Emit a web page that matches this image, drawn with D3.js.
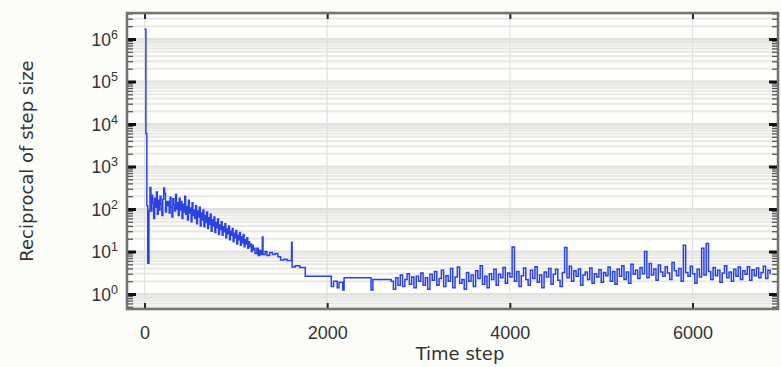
<!DOCTYPE html>
<html>
<head>
<meta charset="utf-8">
<script src="https://cdn.jsdelivr.net/npm/d3@7"></script>
<style>
  html, body { margin: 0; padding: 0; background: #fcfcf9; }
  svg { display: block; font-family: "DejaVu Sans", sans-serif; }
</style>
</head>
<body>
<svg id="chart" width="781" height="367"></svg>
<script>
// ---- data ----
const xTicks = [0, 2000, 4000, 6000];
const yExponents = [0, 1, 2, 3, 4, 5, 6];

// start-up: huge first value, then quick collapse
const startPoints = [[0, 1.7e6], [15, 6000], [25, 120], [35, 5.3], [48, 90]];

// noisy band, one value every 10 steps from step 60
const denseStart = 60, denseStride = 10;
const denseValues = [
  320, 90, 210, 140, 60, 180, 110, 250, 75, 160,
  95, 200, 130, 70, 170, 310, 230, 85, 150, 120,
  150, 80, 190, 110, 65, 175, 125, 90, 220, 100,
  140, 70, 180, 95, 150, 60, 130, 85, 200, 75,
  115, 55, 160, 80, 105, 50, 140, 70, 95, 60,
  120, 45, 90, 65, 110, 40, 80, 55, 95, 38,
  70, 48, 85, 35, 62, 44, 75, 30, 55, 40,
  65, 28, 48, 36, 58, 25, 42, 33, 50, 24,
  38, 29, 45, 21, 34, 26, 40, 19, 30, 24,
  35, 17, 27, 21, 31, 15, 24, 19, 28, 14,
  22, 16, 25, 13, 19, 15, 21, 12, 17, 13,
  15, 10, 14, 11, 12
];

// step-like middle part
const midPoints = [
  [1210, 9], [1230, 12], [1245, 8], [1260, 10.5], [1275, 8.5], [1290, 22],
  [1297, 8.5], [1320, 10], [1340, 8], [1370, 9.5], [1400, 8.5], [1430, 9],
  [1460, 7.5], [1490, 6.3], [1530, 6.6], [1560, 6.1], [1610, 16.6], [1616, 4.3],
  [1650, 4.6], [1700, 4.2], [1760, 2.6], [2045, 1.5], [2070, 2.0], [2110, 1.4],
  [2130, 1.9], [2170, 1.25], [2185, 2.4], [2480, 1.24], [2500, 2.2]
];

// late noisy part, one value every 25 steps from step 2700
const tailStart = 2700, tailStride = 25;
const tailValues = [
  2.0, 1.3, 2.4, 1.6, 2.8, 1.5, 2.2, 3.0, 1.7, 2.5,
  1.4, 2.6, 2.0, 3.1, 1.6, 2.4, 1.3, 2.9, 2.1, 3.4,
  1.6, 2.3, 3.6, 1.5, 2.7, 2.0, 4.0, 1.4, 2.5, 4.3,
  1.8, 2.2, 1.3, 3.2, 2.0, 2.8, 1.5, 3.5, 2.3, 4.6,
  1.7, 2.6, 1.4, 3.0, 2.2, 3.8, 1.6, 2.9, 2.4, 4.2,
  1.8, 3.1, 2.5, 12.7, 2.0, 3.4, 1.5, 2.7, 4.1, 2.2,
  1.6, 3.6, 2.3, 4.4, 1.9, 2.8, 1.4, 3.3, 2.5, 4.0,
  1.7, 2.9, 3.8, 2.1, 1.5, 3.2, 12.5, 2.4, 4.5, 2.0,
  3.5, 2.6, 3.9, 1.6, 2.8, 3.3, 2.2, 4.1, 1.8, 3.0,
  2.5, 3.7, 1.9, 3.2, 2.7, 4.3, 2.0, 3.4, 1.7, 3.9,
  2.6, 4.6, 2.2, 3.3, 1.8, 5.0, 2.9, 3.6, 2.3, 4.2,
  3.0, 10.0, 2.4, 5.2, 2.8, 3.9, 2.1, 4.8, 3.3, 2.6,
  4.4, 3.1, 2.2, 5.5, 3.5, 2.7, 4.0, 2.0, 14.0, 3.2,
  2.6, 4.5, 3.0, 1.8, 3.8, 2.5, 12.0, 2.8, 15.5, 3.4,
  2.2, 4.2, 2.7, 3.6, 1.9, 3.1, 4.6, 2.4, 3.3, 2.0,
  3.8, 2.6, 4.3, 2.2, 3.5, 2.9, 4.4, 2.1, 3.7, 2.7,
  4.1, 2.4, 3.2, 4.5, 2.3, 3.6, 2.9
];

// ---- layout ----
const plot = { left: 127, right: 778, top: 13, bottom: 309 };
const svg = d3.select("#chart");

const x = d3.scaleLinear().domain([-192, 6936]).range([plot.left, plot.right]);
const y = d3.scaleLog().domain([0.4436, 4.09e6]).range([plot.bottom, plot.top]);

const series = startPoints
  .concat(denseValues.map((v, i) => [denseStart + i * denseStride, v]))
  .concat(midPoints)
  .concat(tailValues.map((v, i) => [tailStart + i * tailStride, v]));

const majorVals = yExponents.map(e => Math.pow(10, e));
const minorVals = [];
[-1, 0, 1, 2, 3, 4, 5, 6].forEach(e => {
  for (let m = 2; m <= 9; m++) {
    const v = m * Math.pow(10, e);
    if (v > y.domain()[0] && v < y.domain()[1]) minorVals.push(v);
  }
});

// plot background
svg.append("rect")
  .attr("x", plot.left).attr("y", plot.top)
  .attr("width", plot.right - plot.left).attr("height", plot.bottom - plot.top)
  .attr("fill", "#fdfdfb");

// grid
const grid = svg.append("g");
grid.selectAll("line.minor")
  .data(minorVals).enter().append("line")
  .attr("x1", plot.left).attr("x2", plot.right)
  .attr("y1", d => y(d)).attr("y2", d => y(d))
  .attr("stroke", "#e8e8e6").attr("stroke-width", 2);
grid.selectAll("line.major")
  .data(majorVals).enter().append("line")
  .attr("x1", plot.left).attr("x2", plot.right)
  .attr("y1", d => y(d)).attr("y2", d => y(d))
  .attr("stroke", "#e0e0de").attr("stroke-width", 2);
grid.selectAll("line.vx")
  .data(xTicks).enter().append("line")
  .attr("x1", d => x(d)).attr("x2", d => x(d))
  .attr("y1", plot.top).attr("y2", plot.bottom)
  .attr("stroke", "#e0e0de").attr("stroke-width", 1.2);

// data line
svg.append("clipPath").attr("id", "clip").append("rect")
  .attr("x", plot.left).attr("y", plot.top)
  .attr("width", plot.right - plot.left).attr("height", plot.bottom - plot.top);

const line = d3.line()
  .x(d => x(d[0]))
  .y(d => y(d[1]))
  .curve(d3.curveStepAfter);

svg.append("path")
  .datum(series)
  .attr("clip-path", "url(#clip)")
  .attr("fill", "none")
  .attr("stroke", "#2b42e2")
  .attr("stroke-width", 1.5)
  .attr("d", line);

// axes (ticks point inward)
function styleAxis(g) {
  g.select(".domain").remove();
  g.selectAll(".tick line").attr("stroke", "#222");
}

svg.append("g")
  .attr("transform", `translate(${plot.left},0)`)
  .call(d3.axisLeft(y).tickValues(minorVals).tickSizeInner(-6).tickSizeOuter(0).tickFormat(""))
  .call(styleAxis)
  .selectAll(".tick line").attr("stroke", "#555").attr("stroke-width", 1.3);

svg.append("g")
  .attr("transform", `translate(${plot.right},0)`)
  .call(d3.axisRight(y).tickValues(minorVals).tickSizeInner(-6).tickSizeOuter(0).tickFormat(""))
  .call(styleAxis)
  .selectAll(".tick line").attr("stroke", "#555").attr("stroke-width", 1.3);

const yLeft = svg.append("g")
  .attr("transform", `translate(${plot.left},0)`)
  .call(d3.axisLeft(y).tickValues(majorVals).tickSizeInner(-9).tickSizeOuter(0).tickPadding(9))
  .call(styleAxis);
yLeft.selectAll(".tick line").attr("stroke-width", 3).attr("stroke", "#111");
yLeft.selectAll(".tick text")
  .attr("fill", "#333").attr("font-size", 17.5).attr("dy", "0.36em")
  .text(null)
  .each(function(d) {
    const t = d3.select(this);
    t.append("tspan").text("10");
    t.append("tspan").attr("font-size", 12.5).attr("dy", "-0.55em").text(Math.round(Math.log10(d)));
  });

svg.append("g")
  .attr("transform", `translate(${plot.right},0)`)
  .call(d3.axisRight(y).tickValues(majorVals).tickSizeInner(-9).tickSizeOuter(0).tickFormat(""))
  .call(styleAxis)
  .selectAll(".tick line").attr("stroke-width", 3).attr("stroke", "#111");

const xBottom = svg.append("g")
  .attr("transform", `translate(0,${plot.bottom})`)
  .call(d3.axisBottom(x).tickValues(xTicks).tickSizeInner(-6).tickSizeOuter(0).tickPadding(17).tickFormat(d3.format("d")))
  .call(styleAxis);
xBottom.selectAll(".tick line").attr("stroke-width", 2);
xBottom.selectAll(".tick text").attr("fill", "#333").attr("font-size", 18);

svg.append("g")
  .attr("transform", `translate(0,${plot.top})`)
  .call(d3.axisTop(x).tickValues(xTicks).tickSizeInner(-6).tickSizeOuter(0).tickFormat(""))
  .call(styleAxis)
  .selectAll(".tick line").attr("stroke-width", 2);

// frame
svg.append("rect")
  .attr("x", plot.left).attr("y", plot.top)
  .attr("width", plot.right - plot.left).attr("height", plot.bottom - plot.top)
  .attr("fill", "none").attr("stroke", "#727272").attr("stroke-width", 2.5);

// titles
svg.append("text")
  .attr("x", 460).attr("y", 360)
  .attr("text-anchor", "middle").attr("font-size", 18).attr("fill", "#333")
  .text("Time step");

svg.append("text")
  .attr("transform", "translate(27,161) rotate(-90)")
  .attr("dy", "0.35em")
  .attr("text-anchor", "middle").attr("font-size", 18).attr("fill", "#333")
  .text("Reciprocal of step size");
</script>
</body>
</html>
